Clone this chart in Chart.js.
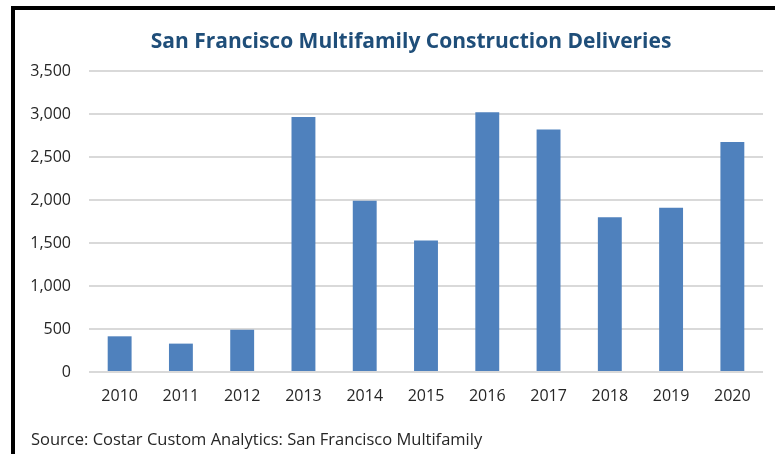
<!DOCTYPE html>
<html>
<head>
<meta charset="utf-8">
<script src="https://cdn.jsdelivr.net/npm/chart.js@4.4.0/dist/chart.umd.min.js"></script>
<style>
  html, body { margin: 0; padding: 0; background: #fff; }
  #wrap { position: relative; width: 775px; height: 454px; overflow: hidden; }
  #frame { position: absolute; left: 11px; top: 6px; right: 0; bottom: 0;
           border-left: 4px solid #000; border-top: 4px solid #000; }
  #chart { position: absolute; left: 0; top: 0; }
  #title { position: absolute; left: 0; top: 28px; width: 822px; text-align: center;
           font: bold 21px/24px "Open Sans", sans-serif; color: #1F4E79; white-space: nowrap; }
  #source { position: absolute; left: 31px; top: 427px; font: 16.5px "Open Sans", sans-serif;
            color: #262626; white-space: nowrap; }
</style>
</head>
<body>
<div id="wrap">
  <div id="frame"></div>
  <canvas id="chart" width="775" height="454"></canvas>
  <div id="title">San Francisco Multifamily Construction Deliveries</div>
  <div id="source">Source: Costar Custom Analytics: San Francisco Multifamily</div>
</div>
<script>
// values
const years = ['2010', '2011', '2012', '2013', '2014', '2015', '2016', '2017', '2018', '2019', '2020'];
const deliveries = [415, 330, 490, 2965, 1990, 1530, 3020, 2820, 1800, 1910, 2675];

const ctx = document.getElementById('chart').getContext('2d');

new Chart(ctx, {
  type: 'bar',
  data: {
    labels: years,
    datasets: [{
      label: 'Deliveries',
      data: deliveries,
      backgroundColor: '#4F81BD',
      borderWidth: 0,
      barPercentage: 0.39,
      categoryPercentage: 1
    }]
  },
  options: {
    responsive: false,
    animation: false,
    // title sits in the page above the canvas, so leave room for it here
    layout: { padding: { left: 0, right: 12, top: 71, bottom: 42 } },
    plugins: {
      legend: { display: false },
      tooltip: { enabled: false },
      title: { display: false }
    },
    scales: {
      x: {
        grid: { display: false, drawTicks: false },
        border: { display: false },
        ticks: { color: '#262626', font: { family: 'Open Sans', size: 16 }, padding: 15 },
        afterFit: (scale) => { scale.height = 40; }
      },
      y: {
        min: 0,
        max: 3500,
        grid: { color: '#D9D9D9', lineWidth: 2, drawTicks: false },
        border: { display: false },
        ticks: {
          stepSize: 500,
          color: '#262626',
          font: { family: 'Open Sans', size: 16 },
          padding: 18,
          callback: (v) => v.toLocaleString('en-US')
        },
        afterFit: (scale) => { scale.width = 89; }
      }
    }
  }
});
</script>
</body>
</html>
